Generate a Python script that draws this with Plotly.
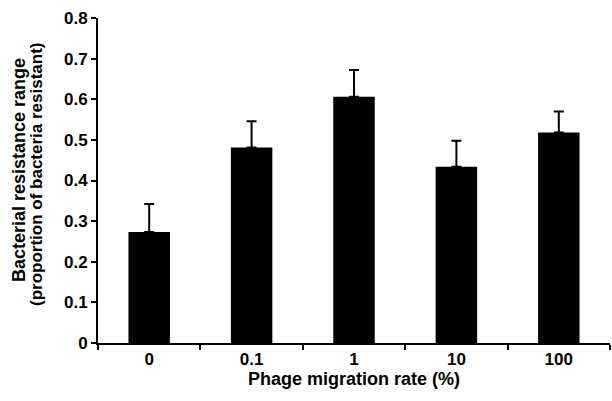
import plotly.graph_objects as go

# Phage migration experiment: mean resistance range with upper error bars
migration_rates = ["0", "0.1", "1", "10", "100"]
resistance_mean = [0.273, 0.481, 0.606, 0.434, 0.518]
resistance_err = [0.069, 0.065, 0.066, 0.064, 0.052]
y_ticks = [0, 0.1, 0.2, 0.3, 0.4, 0.5, 0.6, 0.7, 0.8]
y_tick_text = ["0", "0.1", "0.2", "0.3", "0.4", "0.5", "0.6", "0.7", "0.8"]
y_title_lines = ["Bacterial resistance range", "(proportion of bacteria resistant)"]
x_title = "Phage migration rate (%)"

FONT = "Liberation Sans, Arial, sans-serif"

fig = go.Figure(
    go.Bar(
        x=migration_rates,
        y=resistance_mean,
        marker=dict(color="black", line=dict(color="black", width=0)),
        error_y=dict(
            type="data",
            symmetric=False,
            array=resistance_err,
            arrayminus=[0] * len(resistance_err),
            color="black",
            thickness=2,
            width=5,
        ),
    )
)

fig.update_layout(
    width=612,
    height=401,
    margin=dict(l=98, r=2, t=18, b=58),
    paper_bgcolor="white",
    plot_bgcolor="white",
    bargap=0.595,
    showlegend=False,
    font=dict(family=FONT, size=17, color="black"),
    xaxis=dict(
        type="category",
        range=[-0.5, 4.5],
        showline=True,
        linecolor="black",
        linewidth=2,
        ticks="outside",
        tickson="boundaries",
        ticklen=5,
        tickwidth=2,
        tickcolor="black",
        showgrid=False,
        zeroline=False,
        tickfont=dict(family=FONT, size=17, color="black", weight="bold"),
        title=dict(
            text="<b>" + x_title + "</b>",
            font=dict(family=FONT, size=18, color="black"),
            standoff=4,
        ),
    ),
    yaxis=dict(
        range=[0, 0.8],
        tickvals=y_ticks,
        ticktext=y_tick_text,
        showline=True,
        linecolor="black",
        linewidth=2,
        ticks="outside",
        ticklen=5,
        tickwidth=2,
        tickcolor="black",
        showgrid=False,
        zeroline=False,
        tickfont=dict(family=FONT, size=17, color="black", weight="bold"),
    ),
)

# Two-line y-axis title, one annotation per line for tight line spacing
for line_text, shift, size, ypos in zip(
    y_title_lines, [-79, -62], [18, 17], [(343 - 170) / 325, (343 - 174) / 325]
):
    fig.add_annotation(
        text="<b>" + line_text + "</b>",
        xref="paper",
        yref="paper",
        x=0,
        y=ypos,
        xshift=shift,
        xanchor="center",
        yanchor="middle",
        textangle=-90,
        showarrow=False,
        font=dict(family=FONT, size=size, color="black"),
    )

fig.write_html("out.html")
